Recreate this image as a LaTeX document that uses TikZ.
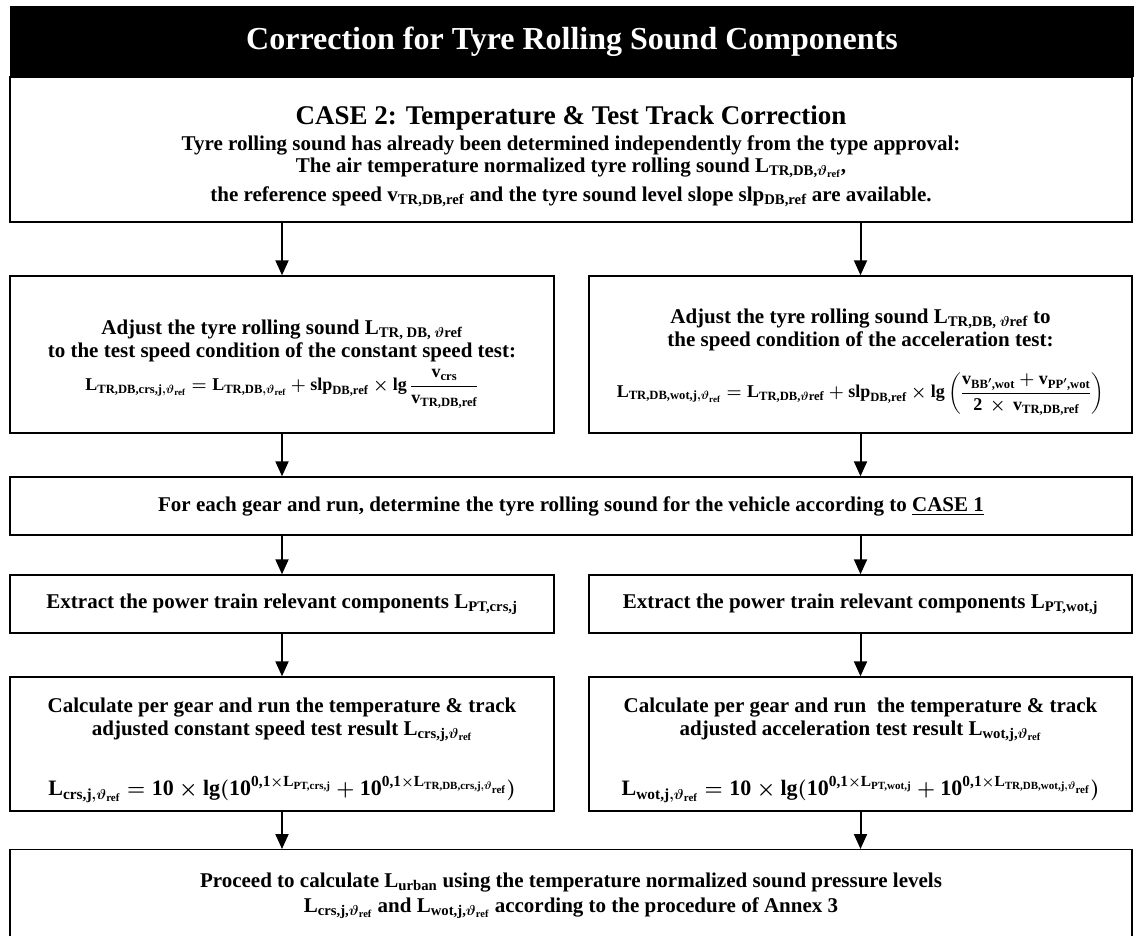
\documentclass[tikz,border=0pt]{standalone}
\usepackage{amsmath}
\usepackage[no-math]{fontspec}
\setmainfont{Liberation Serif}
\usetikzlibrary{arrows.meta}
\tikzset{
  box/.style={draw=black, line width=1.4pt, fill=white, align=center, inner sep=3pt,
    font=\bfseries\boldmath\fontsize{21}{23}\selectfont},
  arr/.style={line width=2pt, -{Triangle[length=15pt,width=13pt]}},
}
\newcommand{\bb}[1]{\text{\bfseries #1}}
\begin{document}
\begin{tikzpicture}[x=1pt,y=-1pt]
\useasboundingbox (0,0) rectangle (1134,936);
% title
\node[fill=black, text=white, minimum width=1124pt, minimum height=71pt, inner sep=0pt,
  font=\bfseries\fontsize{32}{36}\selectfont] (title) at (572,41.5) {Correction for Tyre Rolling Sound Components};
% header
\node[box, minimum width=1122pt, minimum height=145pt] (head) at (571,149.5) {%
\rule{0pt}{32pt}{\fontsize{27}{30}\selectfont CASE 2: Temperature \& Test Track Correction}\\[3pt]
Tyre rolling sound has already been determined independently from the type approval:\\[-1pt]
The air temperature normalized tyre rolling sound L$_{\text{TR,DB,}\vartheta_{\text{ref}}}$,\\[6pt]
the reference speed v$_{\text{TR,DB,ref}}$ and the tyre sound level slope slp$_{\text{DB,ref}}$ are available.};
% row 1
\node[box, minimum width=544pt, minimum height=157pt] (adjL) at (282,354.5) {%
\rule{0pt}{34pt}Adjust the tyre rolling sound L$_{\text{TR, DB, }\vartheta\text{ref}}$\\
to the test speed condition of the constant speed test:\\[6pt]
{\fontsize{18}{20}\selectfont $\bb{L}_{\bb{TR,DB,crs,j},\vartheta_{\bb{ref}}} = \bb{L}_{\bb{TR,DB},\vartheta_{\bb{ref}}} + \bb{slp}_{\bb{DB,ref}} \times \bb{lg}\,\dfrac{\bb{v}_{\bb{crs}}}{\bb{v}_{\bb{TR,DB,ref}}}$}};
\node[box, minimum width=543pt, minimum height=157pt] (adjR) at (860.5,354.5) {%
\rule{0pt}{30pt}Adjust the tyre rolling sound L$_{\text{TR,DB, }\vartheta\text{ref}}$ to\\
the speed condition of the acceleration test:\\[20pt]
{\fontsize{18}{20}\selectfont $\bb{L}_{\bb{TR,DB,wot,j},\vartheta_{\bb{ref}}} = \bb{L}_{\bb{TR,DB,}\vartheta\bb{ref}} + \bb{slp}_{\bb{DB,ref}} \times \bb{lg}\left(\dfrac{\bb{v}_{\bb{BB}'\bb{,wot}} + \bb{v}_{\bb{PP}'\bb{,wot}}}{\bb{2}\,\times\,\bb{v}_{\bb{TR,DB,ref}}}\right)$}};
% middle
\node[box, minimum width=1122pt, minimum height=58pt] (gear) at (571,506) {%
For each gear and run, determine the tyre rolling sound for the vehicle according to \underline{CASE 1}};
% extract
\node[box, minimum width=544pt, minimum height=58pt] (extL) at (282,604) {%
Extract the power train relevant components L$_{\text{PT,crs,j}}$};
\node[box, minimum width=543pt, minimum height=58pt] (extR) at (860.5,604) {%
Extract the power train relevant components L$_{\text{PT,wot,j}}$};
% calc
\node[box, minimum width=544pt, minimum height=134pt] (calL) at (282,744) {%
\rule{0pt}{27pt}Calculate per gear and run the temperature \& track\\
adjusted constant speed test result L$_{\text{crs,j,}\vartheta_{\text{ref}}}$\\[34pt]
{\fontsize{22}{24}\selectfont $\bb{L}_{\bb{crs,j},\vartheta_{\bb{ref}}} = \bb{10}\times\bb{lg}(\bb{10}^{\bb{0,1}\times\bb{L}_{\bb{PT,crs,j}}} + \bb{10}^{\bb{0,1}\times\bb{L}_{\bb{TR,DB,crs,j},\vartheta_{\bb{ref}}}})$}};
\node[box, minimum width=543pt, minimum height=134pt] (calR) at (860.5,744) {%
\rule{0pt}{27pt}Calculate per gear and run\ \ the temperature \& track\\
adjusted acceleration test result L$_{\text{wot,j,}\vartheta_{\text{ref}}}$\\[34pt]
{\fontsize{22}{24}\selectfont $\bb{L}_{\bb{wot,j},\vartheta_{\bb{ref}}} = \bb{10}\times\bb{lg}(\bb{10}^{\bb{0,1}\times\bb{L}_{\bb{PT,wot,j}}} + \bb{10}^{\bb{0,1}\times\bb{L}_{\bb{TR,DB,wot,j},\vartheta_{\bb{ref}}}})$}};
% bottom
\node[box, minimum width=1122pt, minimum height=92pt, anchor=north] (fin) at (571,849) {%
Proceed to calculate L$_{\text{urban}}$ using the temperature normalized sound pressure levels\\[2pt]
L$_{\text{crs,j,}\vartheta_{\text{ref}}}$ and L$_{\text{wot,j,}\vartheta_{\text{ref}}}$ according to the procedure of Annex 3};
% arrows
\draw[arr] (head.south -| adjL.north) -- (adjL.north);
\draw[arr] (head.south -| adjR.north) -- (adjR.north);
\draw[arr] (adjL.south) -- (gear.north -| adjL.south);
\draw[arr] (adjR.south) -- (gear.north -| adjR.south);
\draw[arr] (gear.south -| extL.north) -- (extL.north);
\draw[arr] (gear.south -| extR.north) -- (extR.north);
\draw[arr] (extL.south) -- (calL.north);
\draw[arr] (extR.south) -- (calR.north);
\draw[arr] (calL.south) -- (fin.north -| calL.south);
\draw[arr] (calR.south) -- (fin.north -| calR.south);
\end{tikzpicture}
\end{document}
